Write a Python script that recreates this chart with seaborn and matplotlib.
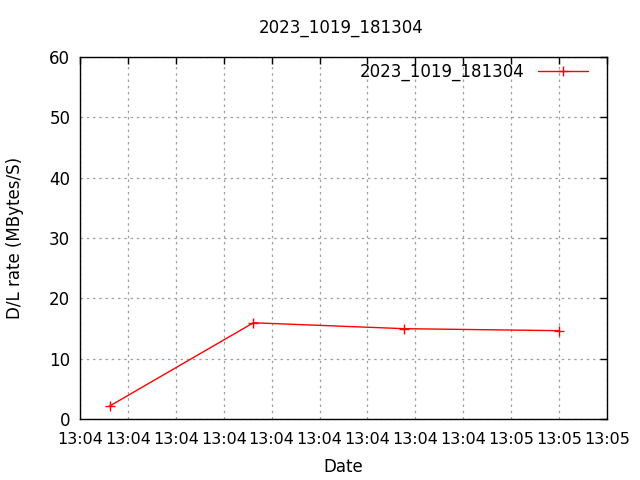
import matplotlib
matplotlib.use("Agg")
import matplotlib.pyplot as plt
import seaborn as sns
import pandas as pd

title = "2023_1019_181304"
series_name = "2023_1019_181304"
seconds = [3.1, 18.1, 33.85, 50.0]
rates = [2.15, 15.95, 14.97, 14.64]
tick_seconds = [0, 5, 10, 15, 20, 25, 30, 35, 40, 45, 50, 55]
tick_labels = ["13:04"] * 9 + ["13:05"] * 3

df = pd.DataFrame({"sec": seconds, "rate": rates, "name": series_name})

sns.set_style("white")
plt.rcParams['font.family'] = ['DejaVu Sans']
plt.rcParams['text.color'] = 'black'
plt.rcParams['axes.labelcolor'] = 'black'
plt.rcParams['xtick.color'] = 'black'
plt.rcParams['ytick.color'] = 'black'
fig = plt.figure(figsize=(6.4, 4.8), dpi=100)
ax = fig.add_axes([80/640, 61/480, 527/640, 362/480])

sns.lineplot(data=df, x="sec", y="rate", ax=ax, color="red", marker="+",
             markersize=7, markeredgewidth=1, markeredgecolor="red",
             linewidth=1, label=series_name)

ax.set_xlim(0, 55 * 527 / 528)
ax.set_ylim(0, 60)
ax.set_xticks(tick_seconds)
ax.set_xticklabels(tick_labels, fontsize=11.5)
ax.set_yticks([0, 10, 20, 30, 40, 50, 60])
ax.tick_params(direction="in", top=True, right=True, length=5, width=1, color="black")
ax.tick_params(axis="y", labelsize=12, pad=7)
ax.tick_params(axis="x", pad=9)
ax.grid(True, color="#a0a0a0", linestyle=(0, (2, 3)), linewidth=0.9)
for s in ax.spines.values():
    s.set_color("black")
    s.set_linewidth(1)
ax.set_xlabel("Date", fontsize=12, labelpad=8)
ax.set_ylabel("D/L rate (MBytes/S)", fontsize=12, labelpad=18)
fig.text(0.533, 0.941, title, ha="center", va="center", fontsize=12)

leg = ax.legend(loc="upper right", frameon=False, fontsize=12, markerfirst=False,
                handlelength=3.0, borderaxespad=0.1, handletextpad=0.8,
                bbox_to_anchor=(0.98, 1.008))
plt.savefig("out.png", dpi=100)
